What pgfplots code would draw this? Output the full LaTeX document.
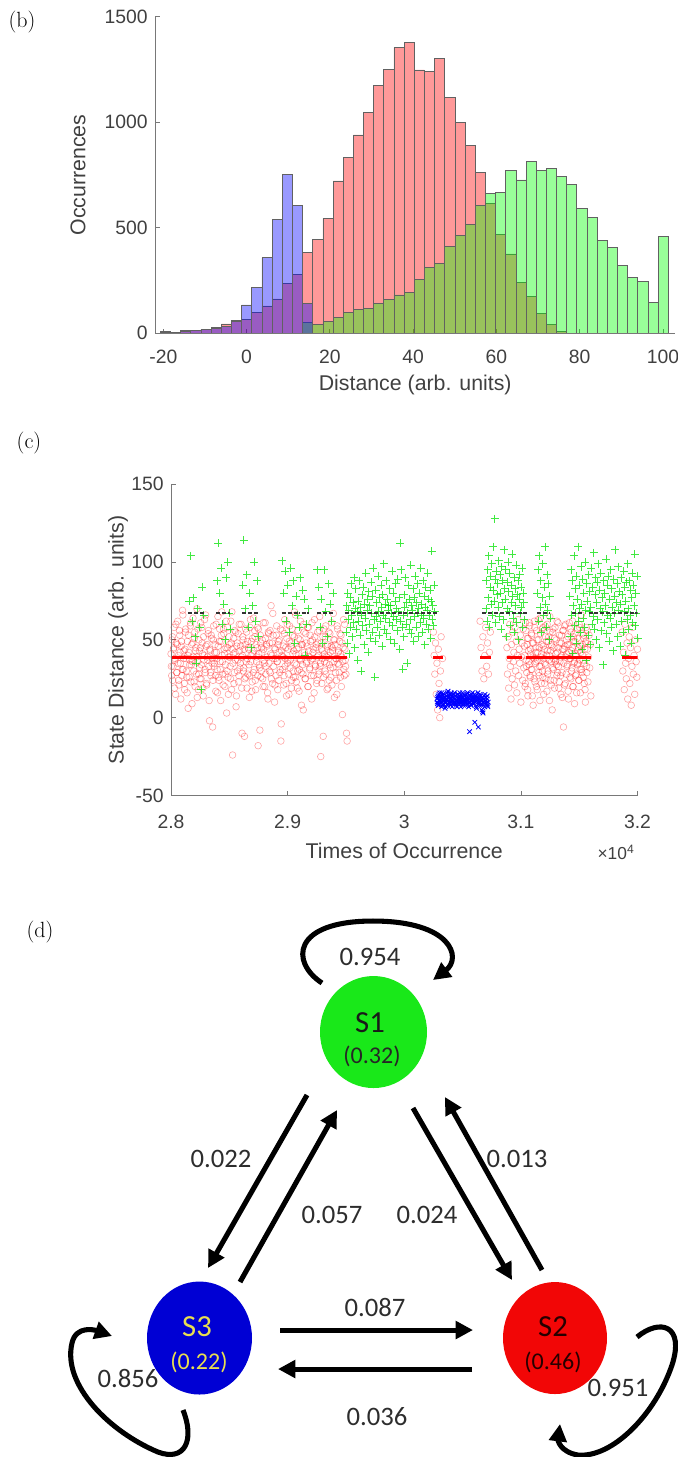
\documentclass[border=0pt]{standalone}
\usepackage{pgfplots}
\usepackage{pgfplotstable}
\pgfplotsset{compat=1.18}
\usepackage{fontspec}
\usetikzlibrary{arrows.meta,shapes.geometric}
\newfontfamily\plotfont{Liberation Sans}
\newfontfamily\diagfont{Carlito}

\definecolor{axgray}{RGB}{120,120,120}
\definecolor{txtgray}{RGB}{64,64,64}
\definecolor{mgreen}{RGB}{0,225,0}
\definecolor{nodegreen}{RGB}{25,232,25}
\definecolor{nodered}{RGB}{242,6,6}
\definecolor{nodeblue}{RGB}{0,0,212}
\definecolor{s3text}{RGB}{232,222,80}
\definecolor{numgray}{RGB}{45,45,45}

\pgfplotsset{
  matlab/.style={
    scale only axis, anchor=south west,
    axis line style={draw=none},
    tick pos=left, tick align=inside,
    major tick length=3.5pt,
    tick style={axgray, line width=0.6pt},
    tick label style={font=\plotfont\fontsize{14.5}{16}\selectfont, text=txtgray},
    label style={font=\plotfont\fontsize{16}{18}\selectfont, text=txtgray},
    yticklabel shift=2pt,
    /pgf/number format/assume math mode=true,
    /pgf/number format/1000 sep={},
    clip mode=individual,
  },
}

% ---------- histogram counts per bin (bin width 2.44) ----------
\pgfplotstableread{
x c
-19.50 10
-17.06 5
-14.62 12
-12.18 15
-9.74 18
-7.30 30
-4.86 45
-2.42 60
0.02 65
2.46 98
4.90 130
7.34 163
9.78 237
12.22 281
14.66 384
17.10 447
19.54 545
21.98 722
24.42 833
26.86 940
29.30 1046
31.74 1173
34.18 1251
36.62 1354
39.06 1379
41.50 1248
43.94 1240
46.38 1303
48.82 1118
51.26 998
53.70 889
56.14 763
58.58 616
61.02 469
63.46 376
65.90 240
68.34 174
70.78 95
73.22 43
75.66 8
}\histSii
\pgfplotstableread{
x c
14.66 50
17.10 44
19.54 55
21.98 74
24.42 98
26.86 114
29.30 118
31.74 142
34.18 161
36.62 182
39.06 193
41.50 256
43.94 313
46.38 332
48.82 411
51.26 466
53.70 517
56.14 605
58.58 664
61.02 667
63.46 771
65.90 727
68.34 814
70.78 771
73.22 782
75.66 742
78.10 706
80.54 592
82.98 550
85.42 442
87.86 406
90.30 321
92.74 264
95.18 245
97.62 145
100.06 461
}\histSi
\pgfplotstableread{
x c
-19.50 3
-17.06 3
-14.62 8
-12.18 12
-9.74 20
-7.30 22
-4.86 32
-2.42 55
0.02 135
2.46 218
4.90 358
7.34 540
9.78 752
12.22 605
14.66 142
}\histSiii

% ---------- state distance samples ----------
\pgfplotstableread[row sep=\\]{
t d\\
28000 41\\28006 27\\28012 52\\28018 33\\28024 45\\28030 19\\28036 38\\28042 60\\28048 29\\28054 47\\
28060 35\\28066 24\\28072 56\\28078 42\\28084 12\\28090 49\\28096 31\\28102 66\\28108 38\\28114 22\\
28120 44\\28126 57\\28132 30\\28138 16\\28144 40\\28150 53\\28156 26\\28162 37\\28168 61\\28174 34\\
28180 9\\28186 48\\28192 39\\28198 23\\28204 55\\28210 43\\28216 28\\28222 70\\28228 36\\28234 18\\
28240 50\\28246 32\\28252 45\\28258 25\\28264 58\\28270 41\\28276 14\\28282 37\\28288 63\\28294 29\\
28300 46\\28306 21\\28312 39\\28318 54\\28324 33\\28330 -2\\28336 43\\28342 27\\28348 51\\28354 38\\
28360 24\\28366 59\\28372 35\\28378 47\\28384 17\\28390 42\\28396 31\\28402 65\\28408 26\\28414 49\\
28420 36\\28426 11\\28432 53\\28438 40\\28444 28\\28450 57\\28456 44\\28462 20\\28468 34\\28474 62\\
28480 30\\28486 45\\28492 15\\28498 52\\28504 39\\28510 25\\28516 48\\28522 68\\28528 -24\\28534 41\\
28540 22\\28546 56\\28552 37\\28558 7\\28564 46\\28570 30\\28576 54\\28582 27\\28588 43\\28594 35\\
28600 60\\28606 19\\28612 40\\28618 50\\28624 32\\28630 -12\\28636 47\\28642 26\\28648 55\\28654 38\\
28660 28\\28666 44\\28672 13\\28678 58\\28684 36\\28690 49\\28696 23\\28702 41\\28708 64\\28714 31\\
28720 52\\28726 18\\28732 39\\28738 45\\28744 27\\28750 57\\28756 34\\28762 -8\\28768 48\\28774 30\\
28780 42\\28786 25\\28792 61\\28798 37\\28804 20\\28810 51\\28816 33\\28822 46\\28828 16\\28834 55\\
28840 35\\28846 48\\28852 29\\28858 72\\28864 40\\28870 22\\28876 53\\28882 38\\28888 10\\28894 44\\
28900 27\\28906 59\\28912 36\\28918 47\\28924 24\\28930 50\\28936 31\\28942 -15\\28948 43\\28954 56\\
28960 39\\28966 21\\28972 54\\28978 33\\28984 45\\28990 14\\28996 60\\29002 37\\29008 28\\29014 49\\
29020 32\\29026 46\\29032 19\\29038 57\\29044 41\\29050 26\\29056 52\\29062 35\\29068 66\\29074 23\\
29080 44\\29086 30\\29092 51\\29098 17\\29104 38\\29110 62\\29116 29\\29122 47\\29128 34\\29134 5\\
29140 55\\29146 40\\29152 25\\29158 48\\29164 36\\29170 58\\29176 20\\29182 43\\29188 31\\29194 53\\
29200 37\\29206 12\\29212 50\\29218 42\\29224 27\\29230 63\\29236 34\\29242 45\\29248 22\\29254 39\\
29260 48\\29266 28\\29272 56\\29278 33\\29284 -25\\29290 44\\29296 38\\29302 52\\29308 26\\29314 41\\
29320 30\\29326 59\\29332 35\\29338 18\\29344 47\\29350 40\\29356 24\\29362 54\\29368 32\\29374 46\\
29380 21\\29386 43\\29392 67\\29398 36\\29404 50\\29410 29\\29416 38\\29422 15\\29428 57\\29434 42\\
29440 34\\29446 49\\29452 26\\29458 53\\29464 39\\29470 2\\29476 45\\29482 31\\29488 60\\29494 37\\
29500 28\\29505 -10\\29510 -15\\
28003 33\\28009 50\\28015 24\\28021 44\\28027 58\\28033 37\\28039 15\\28045 48\\28051 29\\28057 62\\
28063 40\\28069 21\\28075 53\\28081 35\\28087 46\\28093 27\\28099 69\\28105 31\\28111 43\\28117 18\\
28123 55\\28129 38\\28135 26\\28141 49\\28147 6\\28153 42\\28159 34\\28165 59\\28171 23\\28177 47\\
28183 36\\28189 64\\28195 30\\28201 51\\28207 20\\28213 45\\28219 39\\28225 13\\28231 57\\28237 28\\
28243 43\\28249 25\\28255 61\\28261 34\\28267 48\\28273 19\\28279 52\\28285 40\\28291 31\\28297 66\\
28303 22\\28309 47\\28315 37\\28321 56\\28327 11\\28333 44\\28339 29\\28345 53\\28351 35\\28357 -6\\
28363 50\\28369 33\\28375 42\\28381 27\\28387 60\\28393 38\\28399 16\\28405 46\\28411 24\\28417 57\\
28423 31\\28429 49\\28435 68\\28441 36\\28447 21\\28453 54\\28459 41\\28465 28\\28471 45\\28477 3\\
28483 58\\28489 26\\28495 39\\28501 47\\28507 33\\28513 62\\28519 18\\28525 44\\28531 35\\28537 51\\
28543 29\\28549 42\\28555 55\\28561 14\\28567 48\\28573 37\\28579 23\\28585 60\\28591 32\\28597 46\\
28603 39\\28609 -10\\28615 52\\28621 30\\28627 44\\28633 25\\28639 57\\28645 36\\28651 19\\28657 49\\
28663 45\\28669 34\\28675 27\\28681 63\\28687 40\\28693 17\\28699 51\\28705 29\\28711 43\\28717 56\\
28723 24\\28729 47\\28735 36\\28741 58\\28747 -18\\28753 41\\28759 32\\28765 53\\28771 26\\28777 45\\
28783 50\\28789 20\\28795 44\\28801 35\\28807 61\\28813 28\\28819 47\\28825 39\\28831 12\\28837 54\\
28843 30\\28849 56\\28855 41\\28861 25\\28867 48\\28873 67\\28879 33\\28885 45\\28891 21\\28897 38\\
28903 53\\28909 36\\28915 18\\28921 49\\28927 42\\28933 29\\28939 57\\28945 -4\\28951 40\\28957 31\\
28963 46\\28969 27\\28975 63\\28981 38\\28987 22\\28993 51\\28999 35\\29005 44\\29011 15\\29017 59\\
29023 37\\29029 48\\29035 24\\29041 53\\29047 30\\29053 43\\29059 68\\29065 26\\29071 41\\29077 34\\
29083 19\\29089 56\\29095 45\\29101 31\\29107 50\\29113 37\\29119 8\\29125 47\\29131 28\\29137 60\\
29143 42\\29149 25\\29155 54\\29161 35\\29167 46\\29173 20\\29179 58\\29185 39\\29191 32\\29197 49\\
29203 27\\29209 61\\29215 38\\29221 44\\29227 16\\29233 52\\29239 33\\29245 47\\29251 24\\29257 55\\
29263 40\\29269 30\\29275 65\\29281 35\\29287 48\\29293 22\\29299 43\\29305 -12\\29311 57\\29317 36\\
29323 52\\29329 28\\29335 39\\29341 46\\29347 19\\29353 55\\29359 34\\29365 42\\29371 26\\29377 61\\
29383 45\\29389 32\\29395 50\\29401 13\\29407 47\\29413 38\\29419 24\\29425 59\\29431 35\\29437 43\\
29443 29\\29449 54\\29455 41\\29461 20\\29467 48\\29473 36\\29479 63\\29485 27\\29491 44\\29497 33\\
30250 55\\30256 40\\30262 28\\30268 48\\30274 15\\30280 35\\30286 5\\30292 44\\30298 22\\30304 0\\
30310 30\\30316 52\\30322 12\\30328 38\\
30650 62\\30658 45\\30666 30\\30674 52\\30682 25\\30690 40\\30698 58\\30706 33\\30714 48\\30722 28\\
30730 42\\30738 55\\
30880 45\\30885 28\\30890 52\\30895 19\\30900 38\\30905 60\\30910 33\\30915 12\\30920 47\\30925 25\\
30930 55\\30935 36\\30940 42\\30945 21\\30950 58\\30955 30\\30960 49\\30965 16\\30970 40\\30975 63\\
30980 27\\30985 44\\30990 35\\30995 53\\31000 10\\31005 39\\31010 48\\31015 24\\31020 57\\31025 32\\
31030 46\\31035 20\\31040 61\\31045 37\\31050 29\\31055 51\\31060 14\\31065 43\\31070 34\\31075 59\\
31080 26\\31085 41\\31090 54\\31095 31\\31100 48\\31105 8\\31110 38\\31115 62\\31120 23\\31125 45\\
31130 36\\31135 56\\31140 18\\31145 42\\31150 50\\31155 27\\31160 33\\31165 64\\31170 39\\31175 22\\
31180 47\\31185 30\\31190 58\\31195 15\\31200 44\\31205 35\\31210 52\\31215 25\\31220 40\\31225 60\\
31230 28\\31235 49\\31240 37\\31245 11\\31250 55\\31255 43\\31260 21\\31265 46\\31270 32\\31275 57\\
31280 38\\31285 24\\31290 51\\31295 36\\31300 41\\31305 34\\31310 62\\31315 29\\31320 45\\31325 19\\
31330 53\\31335 36\\31340 27\\31345 48\\31350 40\\31355 13\\31360 56\\31365 -6\\31370 44\\31375 59\\
31380 22\\31385 39\\31390 50\\31395 33\\31400 47\\31405 17\\31410 42\\31415 61\\31420 26\\31425 38\\
31430 55\\31435 30\\31440 45\\31445 20\\31450 52\\31455 35\\31460 9\\31465 49\\31470 41\\31475 28\\
31480 57\\31485 34\\31490 43\\31495 24\\31500 60\\31505 37\\31510 16\\31515 46\\31520 31\\31525 54\\
31530 40\\31535 26\\31540 51\\31545 35\\31550 18\\31555 48\\31560 58\\31565 29\\31570 44\\31575 23\\
31580 39\\31585 53\\31590 32\\31595 47\\31600 14\\
31033 40\\31038 22\\31043 56\\31048 33\\31053 47\\31058 18\\31063 51\\31068 36\\31073 61\\31078 27\\
31083 44\\31088 31\\31093 53\\31098 14\\31103 39\\31108 48\\31113 25\\31118 58\\31123 35\\31128 42\\
31133 20\\31138 50\\31143 37\\31148 63\\31153 29\\31158 45\\31163 11\\31168 54\\31173 33\\31178 41\\
31183 57\\31188 26\\31193 46\\31198 38\\31203 22\\31208 59\\31213 34\\31218 49\\31223 17\\31228 43\\
31233 30\\31238 52\\31243 40\\31248 65\\31253 24\\31258 47\\31263 36\\31268 5\\31273 55\\31278 31\\
31283 45\\31288 19\\31293 58\\31298 37\\31303 50\\31308 27\\31313 42\\31318 61\\31323 33\\31328 23\\
31333 48\\31338 39\\31343 15\\31348 53\\31353 29\\31358 44\\31363 56\\31368 35\\31373 21\\31378 46\\
31383 60\\31388 28\\31393 41\\31398 34\\31403 52\\31408 12\\31413 47\\31418 38\\31423 57\\31428 25\\
31433 43\\31438 32\\31443 62\\31448 20\\31453 49\\31458 36\\31463 54\\31468 27\\31473 40\\31478 16\\
31483 51\\31488 35\\31493 45\\31498 24\\31503 58\\31508 31\\31513 42\\31518 66\\31523 29\\31528 47\\
31533 37\\31538 53\\31543 22\\31548 44\\31553 10\\31558 49\\31563 33\\31568 56\\
31868 55\\31874 30\\31880 42\\31886 18\\31892 60\\31898 35\\31904 25\\31910 48\\31916 12\\31922 38\\
31928 52\\31934 22\\31940 45\\31946 8\\31952 33\\31958 58\\31964 28\\31970 40\\31976 15\\31982 50\\
31988 36\\31994 26\\32000 44\\
}\stateSii

\pgfplotstableread[row sep=\\]{
t d\\
28155 75\\28168 104\\28180 62\\28192 77\\28205 52\\28218 35\\28230 70\\28245 58\\28258 18\\28270 84\\28280 66\\
28395 88\\28405 112\\28418 80\\28430 96\\28440 60\\28452 73\\28463 50\\28475 90\\28487 100\\28498 67\\28510 57\\
28615 85\\28625 114\\28638 70\\28650 92\\28662 58\\28675 80\\28688 45\\28700 72\\28712 100\\28725 62\\28738 88\\28750 52\\
28955 101\\28966 80\\28978 94\\28990 62\\29002 85\\29014 55\\29026 96\\29038 72\\29050 88\\29062 48\\29074 78\\29086 66\\29098 58\\29110 90\\
29128 82\\29140 76\\29152 40\\29165 60\\29178 70\\
29255 95\\29265 84\\29278 58\\29290 76\\29302 48\\29315 95\\29327 68\\29340 52\\29352 86\\29365 73\\29378 62\\29390 80\\
29500 55\\29505 72\\29510 48\\29515 80\\29520 63\\29525 69\\29530 41\\29535 77\\29540 58\\29545 86\\
29550 66\\29555 52\\29560 74\\29565 61\\29570 90\\29575 45\\29580 70\\29585 83\\29590 57\\29595 68\\
29600 37\\29605 75\\29610 62\\29615 88\\29620 53\\29625 71\\29630 30\\29635 66\\29640 79\\29645 59\\
29650 84\\29655 47\\29660 73\\29665 64\\29670 93\\29675 56\\29680 69\\29685 76\\29690 42\\29695 81\\
29700 60\\29705 72\\29710 51\\29715 87\\29720 67\\29725 78\\29730 55\\29735 96\\29740 63\\29745 26\\
29750 49\\29755 82\\29760 65\\29765 74\\29770 58\\29775 91\\29780 68\\29785 53\\29790 77\\29795 62\\
29800 85\\29805 71\\29810 46\\29815 79\\29820 66\\29825 99\\29830 57\\29835 73\\29840 64\\29845 88\\
29850 54\\29855 76\\29860 69\\29865 72\\29870 61\\29875 83\\29880 50\\29885 72\\29890 67\\29895 94\\
29900 59\\29905 80\\29910 65\\29915 48\\29920 75\\29925 86\\29930 63\\29935 70\\29940 56\\29945 89\\
29950 68\\29955 77\\29960 44\\29965 112\\29970 62\\29975 95\\29980 58\\29985 31\\29990 66\\29995 52\\
30000 79\\30005 71\\30010 90\\30015 60\\30020 74\\30025 35\\30030 67\\30035 85\\30040 57\\30045 76\\
30050 63\\30055 98\\30060 54\\30065 72\\30070 69\\30075 83\\30080 49\\30085 77\\30090 65\\30095 91\\
30100 58\\30105 74\\30110 67\\30115 86\\30120 52\\30125 70\\30130 80\\30135 61\\30140 96\\30145 66\\
30150 73\\30155 55\\30160 88\\30165 64\\30170 78\\30175 47\\30180 71\\30185 84\\30190 60\\30195 69\\
30200 93\\30205 57\\30210 76\\30215 66\\30220 82\\30225 51\\30230 75\\30235 107\\30240 63\\30245 72\\
30250 59\\30255 85\\30260 68\\
30700 70\\30705 88\\30710 62\\30715 95\\30720 77\\30725 104\\30730 58\\30735 84\\30740 91\\30745 73\\
30750 99\\30755 66\\30760 82\\30765 110\\30770 75\\30775 128\\30780 89\\30785 61\\30790 94\\30795 79\\
30800 86\\30805 71\\30810 101\\30815 65\\30820 92\\30825 80\\30830 57\\30835 97\\30840 74\\30845 88\\
30850 63\\30855 108\\30860 83\\30865 76\\30870 95\\30875 52\\30880 87\\30885 70\\30890 100\\30895 81\\
30900 68\\30905 93\\30910 59\\30915 85\\30920 74\\30925 105\\30930 78\\30935 64\\30940 90\\30945 55\\
30950 83\\30955 72\\30960 98\\30965 61\\30970 79\\30975 88\\30980 50\\30985 76\\30990 92\\30995 67\\
31000 84\\31005 71\\31010 96\\31015 58\\31020 80\\31025 74\\31030 63\\
31140 80\\31146 95\\31152 62\\31158 104\\31164 71\\31170 88\\31176 55\\31182 77\\31188 99\\31194 66\\
31200 84\\31206 110\\31212 73\\31218 58\\31224 92\\31230 69\\31236 86\\31242 50\\31248 78\\31254 64\\
31420 78\\31425 52\\31430 95\\31435 66\\31440 88\\31445 41\\31450 72\\31455 104\\31460 59\\31465 83\\
31470 67\\31475 91\\31480 48\\31485 76\\31490 110\\31495 62\\31500 85\\31505 70\\31510 55\\31515 97\\
31520 73\\31525 44\\31530 89\\31535 64\\31540 80\\31545 58\\31550 100\\31555 69\\31560 37\\31565 86\\
31570 75\\31575 53\\31580 92\\31585 68\\31590 81\\31595 47\\31600 71\\31605 96\\31610 60\\31615 84\\
31620 65\\31625 106\\31630 57\\31635 79\\31640 90\\31645 50\\31650 74\\31655 87\\31660 63\\31665 99\\
31670 45\\31675 82\\31680 70\\31685 93\\31690 56\\31695 77\\31700 68\\31705 34\\31710 88\\31715 61\\
31720 80\\31725 72\\31730 102\\31735 54\\31740 85\\31745 66\\31750 91\\31755 49\\31760 76\\31765 64\\
31770 95\\31775 58\\31780 83\\31785 71\\31790 43\\31795 89\\31800 67\\31805 78\\31810 108\\31815 60\\
31820 74\\31825 86\\31830 52\\31835 97\\31840 69\\31845 81\\31850 46\\31855 73\\31860 90\\31865 62\\
31870 79\\31875 55\\31880 94\\31885 68\\31890 84\\31895 40\\31900 75\\31905 87\\31910 63\\31915 99\\
31920 70\\31925 57\\31930 88\\31935 66\\31940 82\\31945 48\\31950 77\\31955 93\\31960 61\\31965 85\\
31970 72\\31975 105\\31980 59\\31985 80\\31990 67\\31995 91\\32000 51\\
}\stateSi

\pgfplotstableread[row sep=\\]{
t d\\
30280 12\\30285 9\\30290 14\\30295 8\\30300 11\\30305 16\\30310 10\\30315 13\\30320 7\\30325 12\\
30330 15\\30335 9\\30340 11\\30345 13\\30350 6\\30355 10\\30360 14\\30365 12\\30370 8\\30375 17\\
30380 11\\30385 13\\30390 9\\30395 15\\30400 10\\30405 12\\30410 7\\30415 14\\30420 11\\30425 9\\
30430 16\\30435 12\\30440 10\\30445 8\\30450 13\\30455 11\\30460 15\\30465 9\\30470 12\\30475 14\\
30480 10\\30485 7\\30490 13\\30495 11\\30500 16\\30505 9\\30510 12\\30515 10\\30520 14\\30525 8\\
30530 11\\30535 15\\30540 12\\30545 9\\30550 13\\30555 10\\30560 -9\\30565 14\\30570 11\\30575 8\\
30580 12\\30585 16\\30590 10\\30595 13\\30600 9\\30605 -3\\30610 11\\30615 14\\30620 6\\30625 12\\
30630 10\\30635 -6\\30640 13\\30645 8\\30650 15\\30655 11\\30660 9\\30665 5\\30670 12\\30675 3\\
30680 10\\30685 14\\30690 7\\30695 11\\30700 13\\30705 9\\30710 12\\30715 8\\30720 10\\
30282 10\\30287 13\\30292 8\\30297 15\\30302 11\\30307 9\\30312 14\\30317 12\\30322 16\\30327 10\\
30332 8\\30337 12\\30342 15\\30347 10\\30352 13\\30357 7\\30362 11\\30367 16\\30372 9\\30377 13\\
30382 14\\30387 10\\30392 12\\30397 8\\30402 16\\30407 11\\30412 13\\30417 9\\30422 15\\30427 10\\
30432 12\\30437 14\\30442 9\\30447 11\\30452 7\\30457 15\\30462 10\\30467 13\\30472 11\\30477 16\\
30482 9\\30487 12\\30492 14\\30497 10\\30502 13\\30507 8\\30512 15\\30517 11\\30522 12\\30527 10\\
30532 13\\30537 9\\30542 16\\30547 11\\30552 7\\30557 12\\30562 10\\30567 14\\30572 8\\30577 15\\
30582 11\\30587 13\\30592 9\\30597 12\\30602 15\\30607 10\\30612 14\\30617 7\\30622 13\\30627 11\\
30632 16\\30637 9\\30642 12\\30647 10\\30652 14\\30657 11\\30662 8\\30667 13\\30672 4\\30677 10\\
30682 12\\30687 9\\30692 15\\30697 11\\30702 13\\30707 10\\30712 14\\30717 7\\
}\stateSiii

\begin{document}
\begin{tikzpicture}
\path[use as bounding box] (0pt,0pt) rectangle (508.5pt,-1092.75pt);

% ---------------- (b) distance histograms ----------------
\begin{axis}[matlab,
  at={(116.25pt,-250pt)}, width=390.3pt, height=237.4pt,
  xmin=-22, xmax=103, ymin=0, ymax=1500,
  xtick={-20,0,20,40,60,80,100}, ytick={0,500,1000,1500},
  xticklabel shift=9pt,
  xlabel={Distance (arb. units)}, ylabel={Occurrences},
  xlabel style={at={(axis description cs:0.5,-0.164)}, anchor=center},
  ylabel style={at={(axis description cs:-0.148,0.5)}, anchor=center},
]
\addplot[ybar, bar width=2.44, bar shift=0pt, fill=red, fill opacity=0.4,
  draw=black!62, line width=0.5pt] table[x=x,y=c] {\histSii};
\addplot[ybar, bar width=2.44, bar shift=0pt, fill=green, fill opacity=0.4,
  draw=black!62, line width=0.5pt] table[x=x,y=c] {\histSi};
\addplot[ybar, bar width=2.44, bar shift=0pt, fill=blue, fill opacity=0.4,
  draw=black!62, line width=0.5pt] table[x=x,y=c] {\histSiii};
\draw[axgray, line width=0.7pt] (rel axis cs:0,1) -- (rel axis cs:0,0) -- (rel axis cs:1,0);
\end{axis}

% ---------------- (c) state distance over time ----------------
\begin{axis}[matlab,
  at={(128.25pt,-596.6pt)}, width=349.9pt, height=233.4pt,
  xmin=28000, xmax=32000, ymin=-50, ymax=150,
  xtick={28000,29000,30000,31000,32000},
  xticklabels={2.8,2.9,3,3.1,3.2},
  scaled x ticks=false,
  xticklabel shift=11pt,
  ytick={-50,0,50,100,150},
  xlabel={Times of Occurrence},
  ylabel={State Distance (arb. units)},
  xlabel style={at={(axis description cs:0.5,-0.177)}, anchor=center},
  ylabel style={at={(axis description cs:-0.1135,0.5)}, anchor=center},
  unbounded coords=jump,
]
\addplot[only marks, mark=o, mark size=2.5pt,
  mark options={draw=red, draw opacity=0.36, line width=0.45pt}]
  table[x=t,y=d] {\stateSii};
\addplot[only marks, mark=+, mark size=3pt,
  mark options={draw=mgreen, draw opacity=0.75, line width=0.6pt}]
  table[x=t,y=d] {\stateSi};
\addplot[only marks, mark=x, mark size=2.4pt,
  mark options={draw=blue, line width=0.6pt}]
  table[x=t,y=d] {\stateSiii};
% state means
\addplot[red, line width=2.2pt] coordinates {
  (28000,38.5) (29510,38.5) (29510,nan)
  (30250,38.5) (30330,38.5) (30330,nan)
  (30650,38.5) (30740,38.5) (30740,nan)
  (30880,38.5) (31010,38.5) (31010,nan)
  (31040,38.5) (31600,38.5) (31600,nan)
  (31870,38.5) (32000,38.5)};
\addplot[black!80, line width=1.6pt, dash pattern=on 3pt off 1.4pt] coordinates {
  (28150,67) (28280,67) (28280,nan)
  (28390,67) (28510,67) (28510,nan)
  (28610,67) (28750,67) (28750,nan)
  (28950,67) (29110,67) (29110,nan)
  (29120,67) (29180,67) (29180,nan)
  (29250,67) (29390,67) (29390,nan)
  (29490,67) (30290,67) (30290,nan)
  (30670,67) (31060,67) (31060,nan)
  (31140,67) (31250,67) (31250,nan)
  (31440,67) (31540,67) (31540,nan)
  (31580,67) (32000,67)};
\draw[axgray, line width=0.7pt] (rel axis cs:0,1) -- (rel axis cs:0,0) -- (rel axis cs:1,0);
\end{axis}

% ---------------- panel letters and (d) state transition diagram ----------------
\begin{axis}[at={(0pt,0pt)}, anchor=north west, scale only axis,
  width=508.5pt, height=1092.75pt,
  xmin=0, xmax=678, ymin=0, ymax=1457, y dir=reverse,
  hide axis, clip=false]
\node[font=\rmfamily\fontsize{16.5}{19}\selectfont] at (22,22) {(b)};
\node[font=\rmfamily\fontsize{16.5}{19}\selectfont] at (29,443) {(c)};
\node[font=\rmfamily\fontsize{16.5}{19}\selectfont] at (40,932) {(d)};
\node[font=\plotfont\fontsize{13}{15}\selectfont, text=txtgray] at (616,852) {×10\textsuperscript{4}};

\tikzset{
  flow/.style={black, line width=3.8pt, -{Triangle[length=13pt,width=13pt]}},
  num/.style={font=\diagfont\fontsize{20}{22}\selectfont, text=numgray},
  sname/.style={font=\diagfont\fontsize{23}{25}\selectfont},
  sprob/.style={font=\diagfont\fontsize{18}{20}\selectfont},
}
% states
\node[ellipse, fill=nodegreen, inner sep=0pt, minimum width=80.25pt, minimum height=84pt] at (373.5,1032) {};
\node[ellipse, fill=nodeblue, inner sep=0pt, minimum width=78.75pt, minimum height=84.75pt] at (199.5,1338) {};
\node[ellipse, fill=nodered, inner sep=0pt, minimum width=78pt, minimum height=84pt] at (555,1338) {};
\node[sname, text=black!90] at (370,1023) {S1};
\node[sprob, text=black!85] at (372,1056) {(0.32)};
\node[sname, text=s3text] at (197,1327) {S3};
\node[sprob, text=s3text] at (199,1362) {(0.22)};
\node[sname, text=black!85!red] at (553,1327) {S2};
\node[sprob, text=black!85!red] at (553,1362) {(0.46)};

% transitions between states
\draw[flow] (307,1095) -- (208,1268);
\draw[flow] (240,1282) -- (337,1110);
\draw[flow] (413,1108) -- (512,1280);
\draw[flow] (542,1270) -- (445,1097);
\draw[flow] (280,1330) -- (473,1330);
\draw[flow] (472,1369) -- (278,1369);

% self transitions
\draw[flow] (322,983) .. controls (290,962) and (292,921) .. (373,921)
  .. controls (452,921) and (462,958) .. (433,980);
\draw[flow] (183,1410) .. controls (195,1440) and (185,1462) .. (158,1452)
  .. controls (110,1432) and (62,1385) .. (72,1343)
  .. controls (76,1325) and (95,1330) .. (112,1336);
\draw[flow] (637,1337) .. controls (660,1318) and (685,1325) .. (672,1365)
  .. controls (655,1415) and (612,1458) .. (578,1455)
  .. controls (560,1452) and (558,1440) .. (560,1424);

% transition probabilities
\node[num] at (370,957) {0.954};
\node[num] at (221,1159) {0.022};
\node[num] at (517,1159) {0.013};
\node[num] at (332,1215) {0.057};
\node[num] at (427,1215) {0.024};
\node[num] at (375,1307) {0.087};
\node[num] at (377,1417) {0.036};
\node[num] at (128,1378) {0.856};
\node[num] at (618,1388) {0.951};
\end{axis}
\end{tikzpicture}
\end{document}
